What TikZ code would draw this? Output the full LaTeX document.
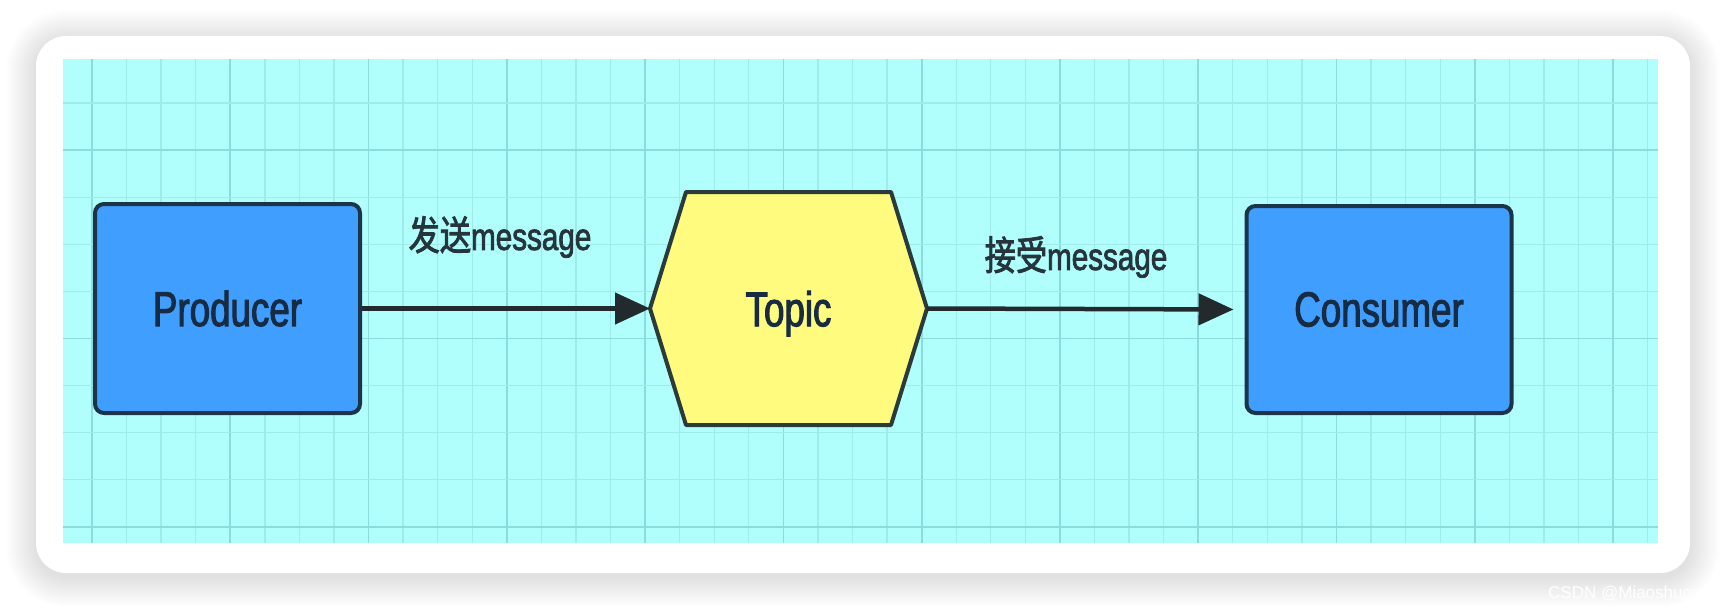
\documentclass[tikz,border=0pt]{standalone}
\usepackage{fontspec}
\usetikzlibrary{arrows.meta}
\newfontfamily\labfont[FakeStretch=0.75,FakeBold=2]{Liberation Sans}
\newfontfamily\msgfont[FakeStretch=0.78,FakeBold=2]{Liberation Sans}
\newfontfamily\cjkfont[FakeStretch=0.78,FakeBold=2]{Noto Sans CJK SC}
\newfontfamily\wmfont{Liberation Sans}
\definecolor{cyanbg}{HTML}{B1FFFD}
\definecolor{gridminor}{HTML}{9EEBEA}
\definecolor{gridmajor}{HTML}{8ADDDC}
\definecolor{boxfill}{HTML}{409EFF}
\definecolor{boxline}{HTML}{1C3448}
\definecolor{hexfill}{HTML}{FEFB7E}
\definecolor{hexline}{HTML}{2B3B3B}
\definecolor{textdark}{HTML}{172C42}
\definecolor{labdark}{HTML}{26343C}
\definecolor{arrowcol}{HTML}{222A2E}
\tikzset{
  bluebox/.style={draw=boxline, fill=boxfill, line width=4pt, rounded corners=9pt,
    inner sep=0pt, text=textdark, font=\labfont\fontsize{49pt}{52pt}\selectfont},
  hexnode/.style={inner sep=0pt, outer sep=0pt, minimum width=277pt, minimum height=233pt,
    text depth=0pt, text=textdark, font=\labfont\fontsize{49pt}{52pt}\selectfont},
  hexshape/.style={draw=hexline, fill=hexfill, line width=4pt, line join=round},
  flow/.style={draw=arrowcol, line width=4.5pt, -{Triangle[length=35pt,width=31pt]}},
  msglabel/.style={text=labdark, inner sep=0pt},
}
\begin{document}
\begin{tikzpicture}[x=1pt,y=-1pt]
\useasboundingbox (0,0) rectangle (1726,610);
\fill[white] (0,0) rectangle (1726,610);
% soft shadow around the card
\foreach \i in {1,...,30}{
  \fill[black, opacity=0.0045, rounded corners=30+\i]
    (36-\i,40-\i) rectangle (1690+\i,577+\i);
}
% card
\fill[white, rounded corners=30pt] (36,36) rectangle (1690,573);
% cyan grid area
\fill[cyanbg] (63,59) rectangle (1658,543);
\foreach \k in {0,...,45}{
  \pgfmathsetmacro{\gx}{92+34.57*\k}
  \pgfmathtruncatemacro{\m}{mod(\k,4)}
  \ifnum\m=0
    \draw[gridmajor, line width=1.8pt] (\gx,59) -- (\gx,543);
  \else
    \draw[gridminor, line width=1.3pt] (\gx,59) -- (\gx,543);
  \fi
}
\foreach \k in {0,...,9}{
  \pgfmathsetmacro{\gy}{103+47.1*\k}
  \pgfmathtruncatemacro{\m}{mod(\k,4)}
  \ifnum\m=1
    \draw[gridmajor, line width=1.8pt] (63,\gy) -- (1658,\gy);
  \else
    \draw[gridminor, line width=1.3pt] (63,\gy) -- (1658,\gy);
  \fi
}
% nodes
\node[bluebox, minimum width=265pt, minimum height=209pt] (producer) at (227.5,308.5) {Producer};
\node[bluebox, minimum width=265pt, minimum height=207pt] (consumer) at (1379,309.5) {Consumer};
\draw[hexshape] (650,308.5) -- (686,192) -- (891,192) -- (927,308.5) -- (891,425) -- (686,425) -- cycle;
\node[hexnode] (topic) at (788.5,308.5) {Topic};
% connectors
\draw[flow] (producer.east) -- (topic.west);
\draw[flow, shorten >=11pt] (topic.east) -- (consumer.west);
% labels
\node[msglabel] (send) at (500,237)
  {{\cjkfont\fontsize{40pt}{44pt}\selectfont 发送}{\msgfont\fontsize{38pt}{44pt}\selectfont message}};
\node[msglabel] (recv) at (1076,257)
  {{\cjkfont\fontsize{40pt}{44pt}\selectfont 接受}{\msgfont\fontsize{38pt}{44pt}\selectfont message}};
% watermark
\node[anchor=base west, inner sep=0pt, text=white, font=\wmfont\fontsize{17pt}{19pt}\selectfont]
  (wm) at (1548,598) {CSDN @Miaoshuowen};
\end{tikzpicture}
\end{document}
